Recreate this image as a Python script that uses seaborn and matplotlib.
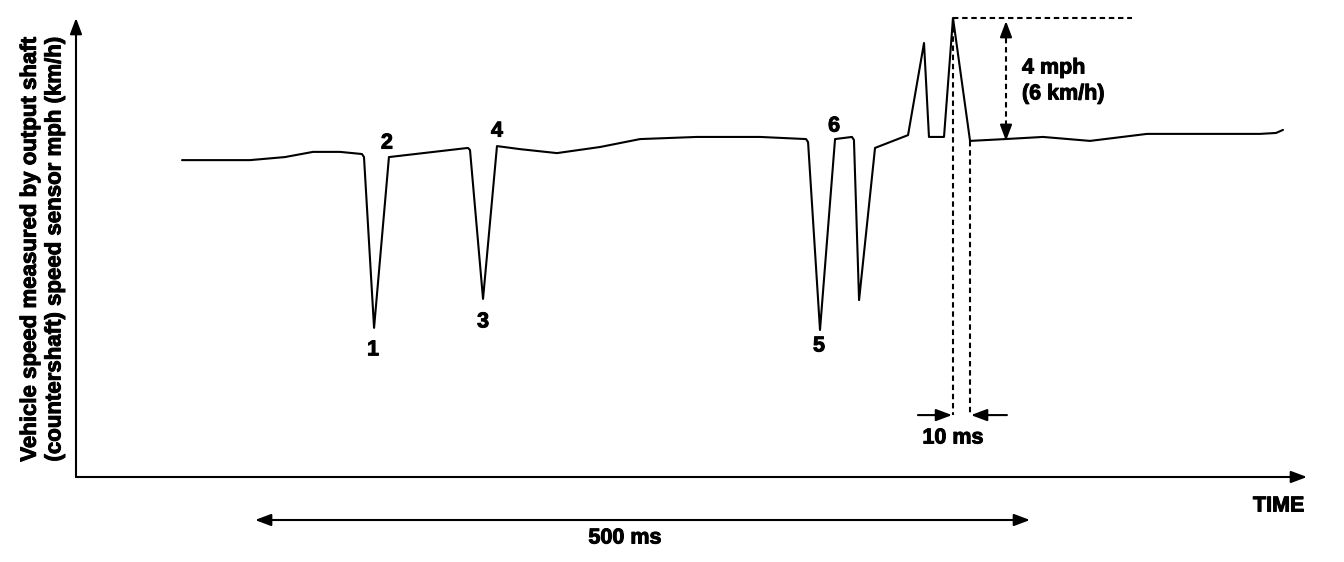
import matplotlib
matplotlib.use("Agg")
import matplotlib.pyplot as plt
import matplotlib.patheffects as pe
import seaborn as sns
import pandas as pd

# ---- data (time in ms, speed in mph) ----
time_ms = [68.4, 112.3, 134.8, 152.9, 170.3, 184.5, 185.8, 192.3, 201.9, 252.9,
           254.2, 262.6, 271.6, 286.5, 310.3, 338.1, 363.9, 400.6, 441.3, 471.0,
           472.3, 480.0, 489.7, 500.6, 501.9, 505.2, 515.5, 536.8, 547.1, 550.3,
           560.0, 565.8, 576.8, 599.4, 623.9, 654.2, 691.0, 725.2, 763.9, 774.2,
           778.7]
speed_mph = [10.39, 10.39, 10.49, 10.66, 10.66, 10.59, 10.49, 4.89, 10.49, 10.79,
             10.72, 5.84, 10.85, 10.75, 10.62, 10.82, 11.08, 11.15, 11.15, 11.08,
             10.98, 4.82, 11.08, 11.15, 11.05, 5.80, 10.79, 11.21, 14.23, 11.15,
             11.15, 15.05, 11.02, 11.08, 11.15, 11.02, 11.25, 11.25, 11.25, 11.28,
             11.38]
point_labels = ["1", "2", "3", "4", "5", "6"]
label_index = [7, 8, 11, 12, 21, 22]
y_label_lines = ["Vehicle speed measured by output shaft",
                 "(countershaft) speed sensor mph (km/h)"]
peak_text = ["4 mph", "(6 km/h)"]
span_text = "500 ms"
pulse_text = "10 ms"
x_axis_text = "TIME"
span_ms = 500
pulse_ms = 10

sns.set_theme(style="white")
plt.rcParams["font.family"] = ["Liberation Sans", "DejaVu Sans"]
plt.rcParams["font.weight"] = "bold"

df = pd.DataFrame({"t": time_ms, "v": speed_mph})

fig = plt.figure(figsize=(13.44, 5.62), dpi=100)
ax = fig.add_axes([0, 0, 1, 1])
ax.set_xlim(-49.03, 818.06)
ax.set_ylim(-2.787, 15.64)
ax.axis("off")

FS = 15.5
K = "black"
LW = 1.5
head = "-|>,head_length=0.8,head_width=0.3"
dbl = "<|-|>,head_length=0.8,head_width=0.3"
DASH = (0, (2.6, 1.8))
heavy = [pe.withStroke(linewidth=0.7, foreground=K)]


def txt(x, y, s, **kw):
    kw.setdefault("fontsize", FS)
    t = ax.text(x, y, s, fontweight="bold", color=K, **kw)
    t.set_path_effects(heavy)
    return t


sns.lineplot(data=df, x="t", y="v", sort=False, estimator=None, color=K,
             lw=LW, ax=ax, legend=False)

# axes arrows
ax.annotate("", xy=(0, 15.05), xytext=(0, 0),
            arrowprops=dict(arrowstyle=head, color=K, lw=LW, shrinkA=0, shrinkB=0))
ax.annotate("", xy=(794.2, 0), xytext=(0, 0),
            arrowprops=dict(arrowstyle=head, color=K, lw=LW, shrinkA=0, shrinkB=0))

# y label (two lines)
txt(-29.5, 7.45, y_label_lines[0], rotation=90, ha="center", va="center", fontsize=16)
txt(-13.6, 7.45, y_label_lines[1], rotation=90, ha="center", va="center", fontsize=16)

# point labels
offsets = [(-1, -22), (-2, 14), (0, -23), (0, 15), (-1, -16), (-1, 13)]
for lab, i, off in zip(point_labels, label_index, offsets):
    a = ax.annotate(lab, xy=(time_ms[i], speed_mph[i]), xytext=off,
                    textcoords="offset pixels", ha="center", va="center",
                    fontsize=FS, fontweight="bold", color=K)
    a.set_path_effects(heavy)

# peak measurement
ipk = 31
t_pk, v_pk = time_ms[ipk], speed_mph[ipk]
t_after, v_after = time_ms[ipk + 1], speed_mph[ipk + 1]
v_low = 2.03
ax.plot([t_pk, 681.3], [v_pk, v_pk], color=K, lw=LW, ls=DASH)
ax.plot([t_pk, t_pk], [v_pk, v_low], color=K, lw=LW, ls=DASH)
ax.plot([t_pk + pulse_ms + 1, t_pk + pulse_ms + 1], [v_after, v_low], color=K, lw=LW, ls=DASH)

t_m = 600.0
ax.plot([t_m, t_m], [v_after + 0.2, v_pk - 0.2], color=K, lw=LW, ls=DASH)
ax.annotate("", xy=(t_m, v_pk - 0.1), xytext=(t_m, v_pk - 0.45),
            arrowprops=dict(arrowstyle=head, color=K, lw=LW, shrinkA=0, shrinkB=0))
ax.annotate("", xy=(t_m, v_after), xytext=(t_m, v_after + 0.35),
            arrowprops=dict(arrowstyle=head, color=K, lw=LW, shrinkA=0, shrinkB=0))
txt(610.3, 13.41, peak_text[0], ha="left", va="center")
txt(610.3, 12.56, peak_text[1], ha="left", va="center")

# 10 ms arrows
ax.annotate("", xy=(t_pk - 0.6, v_low), xytext=(543.2, v_low),
            arrowprops=dict(arrowstyle=head, color=K, lw=LW, shrinkA=0, shrinkB=0))
ax.annotate("", xy=(t_pk + pulse_ms + 1.6, v_low), xytext=(600.6, v_low),
            arrowprops=dict(arrowstyle=head, color=K, lw=LW, shrinkA=0, shrinkB=0))
txt(t_pk, 1.28, pulse_text, ha="center", va="center")

# 500 ms span
t0 = 115.5
ax.annotate("", xy=(t0 + span_ms, -1.41), xytext=(t0, -1.41),
            arrowprops=dict(arrowstyle=dbl, color=K, lw=LW, shrinkA=0, shrinkB=0))
txt(354.2, -2.0, span_text, ha="center", va="center")

txt(792.3, -0.95, x_axis_text, ha="right", va="center")

fig.savefig("out.png", dpi=100, facecolor="white")
